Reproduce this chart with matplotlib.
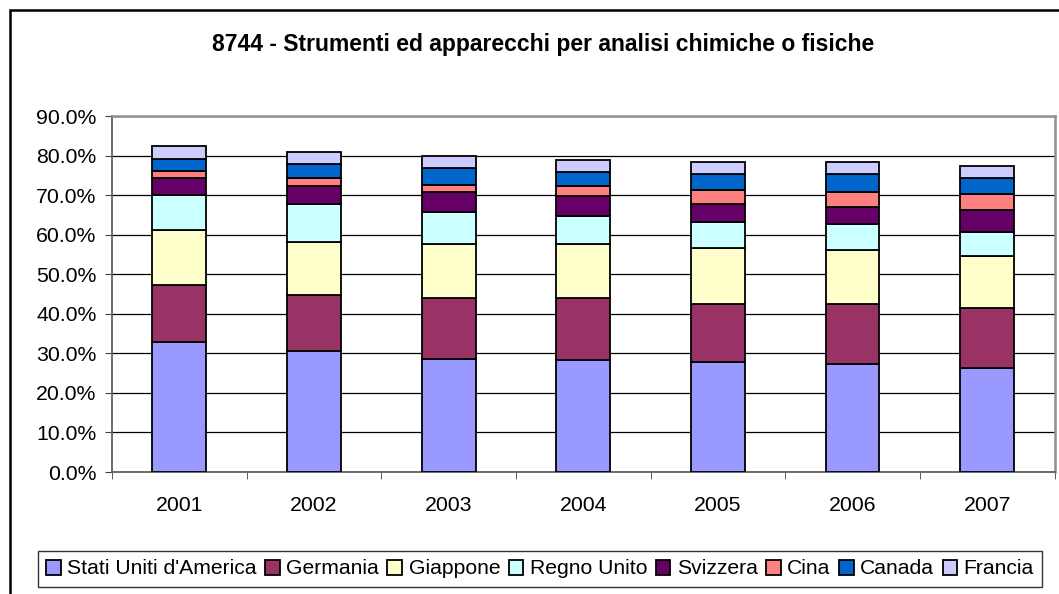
import matplotlib
matplotlib.use("Agg")
import matplotlib.pyplot as plt
from matplotlib.patches import Rectangle
import numpy as np

years = ["2001", "2002", "2003", "2004", "2005", "2006", "2007"]
countries = ["Stati Uniti d'America", "Germania", "Giappone", "Regno Unito",
             "Svizzera", "Cina", "Canada", "Francia"]
stati_uniti = [32.8, 30.7, 28.6, 28.2, 27.7, 27.2, 26.2]
germania    = [14.6, 14.1, 15.3, 15.7, 14.7, 15.2, 15.2]
giappone    = [13.7, 13.3, 13.7, 13.7, 14.2, 13.8, 13.2]
regno_unito = [8.9, 9.6, 8.1, 7.0, 6.6, 6.4, 6.0]
svizzera    = [4.2, 4.5, 5.1, 5.1, 4.5, 4.5, 5.6]
cina        = [2.0, 2.0, 1.8, 2.5, 3.5, 3.7, 4.0]
canada      = [3.0, 3.6, 4.2, 3.6, 4.2, 4.6, 4.1]
francia     = [3.1, 3.0, 3.2, 3.0, 3.0, 3.0, 3.1]
series = [stati_uniti, germania, giappone, regno_unito, svizzera, cina, canada, francia]
colors = ["#9999FF", "#993366", "#FFFFCC", "#CCFFFF", "#660066", "#FF8080", "#0066CC", "#CCCCFF"]
title = "8744 - Strumenti ed apparecchi per analisi chimiche o fisiche"

plt.rcParams['font.family'] = ['Liberation Sans', 'DejaVu Sans']

fig = plt.figure(figsize=(10.59, 5.94), dpi=100)
ax = fig.add_axes([112/1059, 1 - 472/594, (1054.5 - 112)/1059, (472 - 116)/594])

x = np.arange(len(years))
bottom = np.zeros(len(years))
handles = []
for vals, col, name in zip(series, colors, countries):
    b = ax.bar(x, vals, width=0.4, bottom=bottom, color=col, edgecolor="black",
               linewidth=1.3, label=name, zorder=3)
    handles.append(b)
    bottom += np.array(vals)

ax.set_xlim(-0.5, len(years) - 0.5)
ax.set_ylim(0, 90)
yt = np.arange(0, 91, 10)
ax.set_yticks(yt)
ax.set_yticklabels([f"{v:.1f}%" for v in yt], fontsize=15.3)
ax.yaxis.grid(True, color="black", linewidth=0.9, zorder=0)
ax.set_xticks(x)
ax.set_xticklabels(years, fontsize=15.3)
ax.set_xticks(np.arange(-0.5, len(years), 1), minor=True)
ax.tick_params(axis="x", which="major", length=0, pad=17)
ax.tick_params(axis="x", which="minor", length=5, direction="out", color="#404040")
ax.tick_params(axis="y", length=5, direction="out", pad=6, color="#404040")
for s in ["left", "bottom"]:
    ax.spines[s].set_color("#606060")
    ax.spines[s].set_linewidth(1.3)
for s in ["top", "right"]:
    ax.spines[s].set_color("#909090")
    ax.spines[s].set_linewidth(1.8)

fig.text(543/1059, 1 - 44/594, title, ha="center", va="center",
         fontsize=16.5, fontweight="bold")

leg = fig.legend(handles=handles, labels=countries, loc="center",
                 bbox_to_anchor=(540/1059, 1 - 569/594), ncol=8, fontsize=15.2,
                 frameon=True, fancybox=False, edgecolor="black",
                 handlelength=0.7, handleheight=0.7, handletextpad=0.3,
                 columnspacing=0.4, borderpad=0.4, borderaxespad=0)
leg.get_frame().set_linewidth(1.0)

fig.patches.append(Rectangle((10/1059, -0.1), 1.2, 1.1 - 10/594, transform=fig.transFigure,
                             fill=False, edgecolor="black", linewidth=1.8))

fig.savefig("out.png", dpi=100)
